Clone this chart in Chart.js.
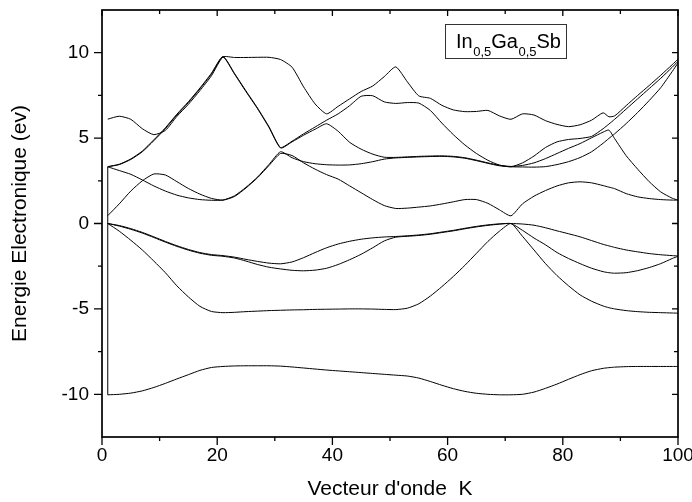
<!DOCTYPE html>
<html><head><meta charset="utf-8">
<script src="https://cdn.jsdelivr.net/npm/chart.js@4/dist/chart.umd.min.js"></script>
<style>html,body{margin:0;padding:0;background:#fff;}canvas{display:block;}</style>
</head><body>
<canvas id="c" width="692" height="502"></canvas>
<script>
// Wave-vector positions (shared x grid for all bands)
const kPoints = [1,3,5,7,9,11,13,15,17,19,
  21,23,25,27,29,31,33,35,37,39,
  41,43,45,47,49,51,53,55,57,59,
  61,63,65,67,69,71,73,75,77,79,
  81,83,85,87,88,89,91,93,95,97,
  99,100];

// Band energies (eV)
const band1 = [-10.03,-10.0,-9.93,-9.8,-9.6,-9.36,-9.1,-8.85,-8.6,-8.43,
  -8.37,-8.34,-8.33,-8.33,-8.33,-8.35,-8.4,-8.46,-8.52,-8.58,
  -8.63,-8.68,-8.73,-8.78,-8.83,-8.88,-8.93,-9.05,-9.25,-9.47,
  -9.67,-9.83,-9.94,-10.0,-10.03,-10.03,-10.0,-9.87,-9.65,-9.4,
  -9.12,-8.85,-8.62,-8.48,-8.44,-8.41,-8.38,-8.37,-8.37,-8.37,
  -8.37,-8.37];
const band2 = [0,-0.45,-0.98,-1.55,-2.2,-2.88,-3.65,-4.3,-4.85,-5.15,
  -5.22,-5.2,-5.16,-5.13,-5.1,-5.08,-5.06,-5.05,-5.03,-5.02,
  -5.01,-5.0,-5.0,-5.01,-5.03,-5.04,-4.96,-4.7,-4.25,-3.7,
  -3.1,-2.45,-1.75,-1.05,-0.45,0,-0.75,-1.55,-2.35,-3.05,
  -3.65,-4.18,-4.55,-4.83,-4.93,-5.0,-5.1,-5.16,-5.2,-5.22,
  -5.24,-5.25];
const band3 = [0,-0.15,-0.34,-0.56,-0.82,-1.09,-1.34,-1.56,-1.74,-1.86,
  -1.92,-2.02,-2.2,-2.4,-2.56,-2.66,-2.74,-2.77,-2.73,-2.62,
  -2.4,-2.12,-1.8,-1.42,-1.02,-0.8,-0.75,-0.7,-0.63,-0.53,
  -0.43,-0.31,-0.2,-0.11,-0.04,0,-0.4,-0.85,-1.25,-1.7,
  -2.05,-2.35,-2.62,-2.82,-2.88,-2.91,-2.88,-2.76,-2.58,-2.35,
  -2.05,-1.92];
const band4 = [0,-0.12,-0.3,-0.52,-0.78,-1.05,-1.3,-1.52,-1.7,-1.82,
  -1.88,-1.97,-2.1,-2.22,-2.32,-2.36,-2.25,-2.0,-1.7,-1.42,
  -1.2,-1.04,-0.92,-0.84,-0.79,-0.76,-0.72,-0.67,-0.6,-0.5,
  -0.4,-0.28,-0.17,-0.08,-0.02,0,-0.03,-0.1,-0.25,-0.43,
  -0.6,-0.78,-1.0,-1.22,-1.31,-1.4,-1.55,-1.66,-1.76,-1.83,
  -1.88,-1.9];
const band5 = [0.46,1.15,1.9,2.5,2.9,2.84,2.45,2.05,1.72,1.47,
  1.37,1.58,2.08,2.68,3.4,4.1,3.98,3.55,3.18,2.86,
  2.6,2.2,1.8,1.4,1.05,0.88,0.9,0.96,1.03,1.14,
  1.27,1.4,1.4,1.18,0.8,0.45,1.15,1.6,1.93,2.2,
  2.38,2.44,2.38,2.22,2.13,2.04,1.75,1.56,1.46,1.4,
  1.37,1.37];
const band6 = [3.32,3.1,2.88,2.55,2.2,1.9,1.66,1.5,1.4,1.36,
  1.37,1.62,2.12,2.72,3.46,4.2,3.85,3.62,3.5,3.44,
  3.42,3.43,3.5,3.62,3.77,3.84,3.87,3.9,3.92,3.93,
  3.9,3.82,3.68,3.52,3.38,3.32,3.31,3.3,3.33,3.45,
  3.62,3.86,4.2,4.7,4.98,5.25,5.85,6.5,7.2,7.95,
  8.9,9.4];
const band7 = [3.32,3.45,3.75,4.2,4.85,5.55,6.35,7.08,7.88,8.75,
  9.75,8.75,7.72,6.72,5.62,4.42,4.78,5.17,5.52,5.84,
  5.4,4.75,4.35,4.06,3.88,3.87,3.9,3.93,3.95,3.96,
  3.93,3.85,3.71,3.55,3.41,3.34,3.4,3.55,3.8,4.1,
  4.4,4.68,5.02,5.35,5.47,4.97,3.97,3.18,2.45,1.85,
  1.48,1.37];
const band8 = [3.33,3.47,3.78,4.24,4.9,5.6,6.4,7.13,7.93,8.8,
  9.78,8.79,7.76,6.76,5.66,4.45,4.82,5.25,5.65,6.05,
  6.42,6.9,7.45,7.48,7.12,7.03,7.08,7.05,6.62,5.88,
  5.2,4.6,4.1,3.7,3.42,3.32,3.55,3.95,4.45,4.78,
  4.92,4.98,5.1,5.55,5.82,6.1,6.7,7.3,7.9,8.5,
  9.15,9.5];
const band9 = [6.11,6.28,6.1,5.55,5.2,5.45,6.27,6.98,7.78,8.65,
  9.75,9.72,9.72,9.73,9.73,9.6,9.15,8.0,7.0,6.42,
  6.86,7.3,7.73,8.05,8.6,9.17,8.3,7.47,7.33,6.92,
  6.65,6.55,6.56,6.62,6.3,6.1,6.42,6.35,6.02,5.8,
  5.67,5.78,6.05,6.48,6.25,6.3,6.9,7.5,8.08,8.68,
  9.3,9.62];

const bands = [band1, band2, band3, band4, band5, band6, band7, band8, band9];

// Axis ticks and labels
const xMajorTicks = [0, 20, 40, 60, 80, 100];
const xMinorTicks = [10, 30, 50, 70, 90];
const yMajorTicks = [-10, -5, 0, 5, 10];
const yMinorTicks = [-7.5, -2.5, 2.5, 7.5];
const xTitle = "Vecteur d'onde  K";
const yTitle = 'Energie Electronique (ev)';
const formulaParts = [['In', false], ['0,5', true], ['Ga', false], ['0,5', true], ['Sb', false]];

const FONT = "'Liberation Sans', Arial, Helvetica, sans-serif";

const datasets = bands.map(b => ({
  data: kPoints.map((k, i) => ({x: k, y: b[i]})),
  borderColor: '#000', borderWidth: 1, pointRadius: 0, tension: 0.2, fill: false
}));
// connector drawn by the original software at the first k point
datasets.push({
  data: [{x: kPoints[0], y: band1[0]}, {x: kPoints[0], y: band6[0]}],
  borderColor: '#000', borderWidth: 1, pointRadius: 0, tension: 0, fill: false
});

const frameTicks = {
  id: 'frameTicks',
  afterDatasetsDraw(chart) {
    const {ctx, chartArea: a, scales: {x, y}} = chart;
    ctx.save();
    ctx.strokeStyle = '#000';
    ctx.lineWidth = 1.7;
    ctx.strokeRect(a.left, a.top, a.right - a.left, a.bottom - a.top);
    ctx.lineWidth = 1.3;
    ctx.beginPath();
    const seg = (x1, y1, x2, y2) => { ctx.moveTo(x1, y1); ctx.lineTo(x2, y2); };
    xMajorTicks.forEach(v => { const p = x.getPixelForValue(v); seg(p, a.bottom, p, a.bottom + 8); seg(p, a.top, p, a.top + 6); });
    xMinorTicks.forEach(v => { const p = x.getPixelForValue(v); seg(p, a.bottom, p, a.bottom + 4); seg(p, a.top, p, a.top + 4); });
    yMajorTicks.forEach(v => { const p = y.getPixelForValue(v); seg(a.left - 8, p, a.left, p); seg(a.right - 6, p, a.right, p); });
    yMinorTicks.forEach(v => { const p = y.getPixelForValue(v); seg(a.left - 4, p, a.left, p); seg(a.right - 4, p, a.right, p); });
    ctx.stroke();

    // formula label box
    const bx = a.left + 343, by = a.top + 14, bw = 121, bh = 34;
    ctx.lineWidth = 1;
    ctx.strokeStyle = '#333';
    ctx.strokeRect(bx + 0.5, by + 0.5, bw, bh);
    ctx.fillStyle = '#000';
    ctx.textBaseline = 'alphabetic';
    ctx.textAlign = 'left';
    let tx = bx + 11;
    formulaParts.forEach(([t, sub]) => {
      ctx.font = (sub ? '13px ' : '20px ') + FONT;
      ctx.fillText(t, tx, sub ? by + 32 : by + 24);
      tx += ctx.measureText(t).width + (sub ? 0 : 0.5);
    });
    ctx.restore();
  }
};

new Chart(document.getElementById('c'), {
  type: 'line',
  data: {datasets},
  options: {
    responsive: false,
    animation: false,
    devicePixelRatio: 1,
    layout: {padding: {top: 10, right: 14, bottom: 0, left: 0}},
    plugins: {legend: {display: false}, tooltip: {enabled: false}},
    elements: {line: {borderJoinStyle: 'round'}},
    scales: {
      x: {
        type: 'linear', min: 0, max: 100,
        grid: {display: false, drawTicks: false},
        border: {display: false},
        ticks: {color: '#000', font: {family: FONT, size: 19}, padding: 7, maxRotation: 0, autoSkip: false},
        afterBuildTicks: s => { s.ticks = xMajorTicks.map(v => ({value: v})); },
        afterFit: s => { s.height = 65; s.paddingLeft = 0; s.paddingRight = 0; },
        title: {display: true, text: xTitle, color: '#000', font: {family: FONT, size: 21}, padding: {top: 0, bottom: 0}}
      },
      y: {
        type: 'linear', min: -12.5, max: 12.5,
        grid: {display: false, drawTicks: false},
        border: {display: false},
        ticks: {color: '#000', font: {family: FONT, size: 19}, padding: 13},
        afterBuildTicks: s => { s.ticks = yMajorTicks.map(v => ({value: v})); },
        afterFit: s => { s.width = 102; s.paddingTop = 0; s.paddingBottom = 0; },
        title: {display: true, text: yTitle, color: '#000', font: {family: FONT, size: 21}, padding: {top: 8, bottom: 0}}
      }
    }
  },
  plugins: [frameTicks]
});
</script>
</body></html>
